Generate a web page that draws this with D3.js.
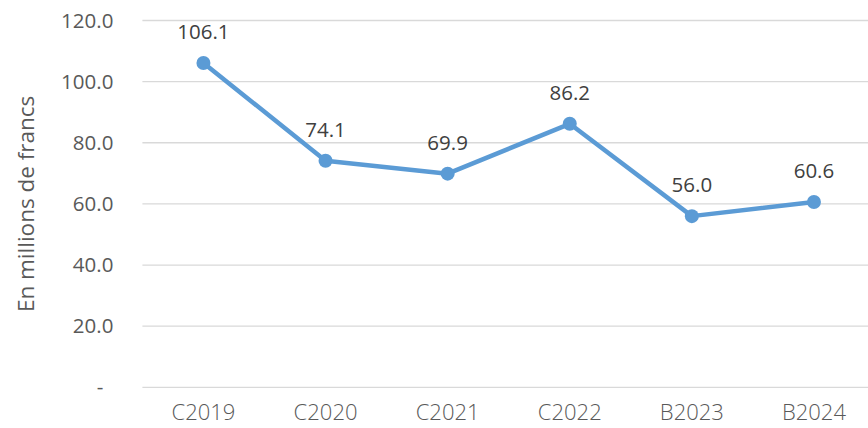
<!DOCTYPE html>
<html>
<head>
<meta charset="utf-8">
<script src="https://cdn.jsdelivr.net/npm/d3@7"></script>
<style>
  body { margin: 0; background: #fff; }
  svg { display: block; }
  text { font-family: "Open Sans", "Noto Sans", sans-serif; }
</style>
</head>
<body>
<div id="chart"></div>
<script>
// values
var years = ["C2019", "C2020", "C2021", "C2022", "B2023", "B2024"];
var amounts = [106.1, 74.1, 69.9, 86.2, 56.0, 60.6];
var yTicks = [0, 20, 40, 60, 80, 100, 120];

var width = 868, height = 428;
var margin = {top: 20.5, right: -7, bottom: 40.7, left: 142.4};
var innerWidth = width - margin.left - margin.right,
    innerHeight = height - margin.top - margin.bottom;

var data = years.map(function (y, i) { return {year: y, value: amounts[i]}; });

var svg = d3.select("#chart").append("svg")
    .attr("width", width)
    .attr("height", height);

var g = svg.append("g")
    .attr("transform", "translate(" + margin.left + "," + margin.top + ")");

var xScale = d3.scaleBand().domain(years).range([0, innerWidth]);
var yScale = d3.scaleLinear().domain([0, 120]).range([innerHeight, 0]);

// grid lines
g.selectAll(".grid")
  .data(yTicks)
  .enter().append("line")
    .attr("class", "grid")
    .attr("x1", 0)
    .attr("x2", innerWidth)
    .attr("y1", function (d) { return yScale(d); })
    .attr("y2", function (d) { return yScale(d); })
    .attr("stroke", "#d9d9d9")
    .attr("stroke-width", 1.3);

// y axis labels
var yAxis = g.append("g")
    .call(d3.axisLeft(yScale).tickValues(yTicks).tickSize(0).tickPadding(29)
      .tickFormat(function (d) { return d === 0 ? "-" : d3.format(".1f")(d); }));
yAxis.select(".domain").remove();
yAxis.selectAll("text")
    .attr("fill", "#595959")
    .attr("font-size", "20.5px")
    .attr("dx", function (d) { return d === 0 ? -10 : 0; });

// x axis labels
var xAxis = g.append("g")
    .attr("transform", "translate(0," + innerHeight + ")")
    .call(d3.axisBottom(xScale).tickSize(0).tickPadding(17));
xAxis.select(".domain").remove();
xAxis.selectAll("text")
    .attr("fill", "#595959")
    .attr("font-family", "Roboto, sans-serif")
    .attr("font-weight", 300)
    .attr("font-size", "22px");

// y axis title
svg.append("text")
    .attr("transform", "translate(34," + (margin.top + innerHeight / 2) + ") rotate(-90)")
    .attr("text-anchor", "middle")
    .attr("fill", "#595959")
    .attr("font-size", "22.5px")
    .text("En millions de francs");

var xMid = function (d) { return xScale(d.year) + xScale.bandwidth() / 2; };

var line = d3.line()
    .x(xMid)
    .y(function (d) { return yScale(d.value); });

g.append("path")
    .datum(data)
    .attr("fill", "none")
    .attr("stroke", "#5b9bd5")
    .attr("stroke-width", 4.5)
    .attr("stroke-linejoin", "round")
    .attr("d", line);

g.selectAll(".dot")
  .data(data)
  .enter().append("circle")
    .attr("class", "dot")
    .attr("cx", xMid)
    .attr("cy", function (d) { return yScale(d.value); })
    .attr("r", 7)
    .attr("fill", "#5b9bd5");

g.selectAll(".label")
  .data(data)
  .enter().append("text")
    .attr("class", "label")
    .attr("x", xMid)
    .attr("y", function (d) { return yScale(d.value) - 24; })
    .attr("text-anchor", "middle")
    .attr("fill", "#404040")
    .attr("font-size", "20.5px")
    .text(function (d) { return d3.format(".1f")(d.value); });
</script>
</body>
</html>
